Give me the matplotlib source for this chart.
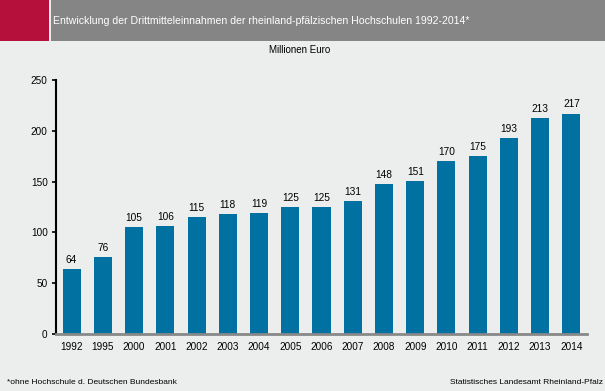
import matplotlib.pyplot as plt
from matplotlib.patches import Rectangle

# Data
years = ['1992', '1995', '2000', '2001', '2002', '2003', '2004', '2005', '2006',
         '2007', '2008', '2009', '2010', '2011', '2012', '2013', '2014']
values = [64, 76, 105, 106, 115, 118, 119, 125, 125, 131, 148, 151, 170, 175, 193, 213, 217]
y_ticks = [0, 50, 100, 150, 200, 250]

title = 'Entwicklung der Drittmitteleinnahmen der rheinland-pfälzischen Hochschulen 1992-2014*'
unit = 'Millionen Euro'
note = '*ohne Hochschule d. Deutschen Bundesbank'
source = 'Statistisches Landesamt Rheinland-Pfalz'

plt.rcParams['font.family'] = ['Liberation Sans', 'DejaVu Sans']

W, H = 605, 391
fig = plt.figure(figsize=(W / 100, H / 100), dpi=100)
fig.patch.set_facecolor('#eceeed')

# header band
fig.patches.append(Rectangle((0, 1 - 41 / H), 49 / W, 41 / H, transform=fig.transFigure,
                             facecolor='#b5103c', edgecolor='none'))
fig.patches.append(Rectangle((51 / W, 1 - 41 / H), 1 - 51 / W, 41 / H, transform=fig.transFigure,
                             facecolor='#858585', edgecolor='none'))
fig.text(53 / W, 1 - 21 / H, title, color='white', fontsize=7.6, va='center', ha='left')
fig.text(300 / W, 1 - 50 / H, unit, color='black', fontsize=7, va='center', ha='center')

# axes: y-axis at x=56, 0 at y=334, 250 at y=80, right end x=587
ax = fig.add_axes([56 / W, 1 - 334 / H, (587 - 56) / W, (334 - 80) / H])
ax.set_facecolor('none')

x = range(len(years))
ax.bar(x, values, width=0.58, color='#0071a1', zorder=2)
for xi, v in zip(x, values):
    ax.text(xi, v + 4, str(v), ha='center', va='bottom', fontsize=7.3)

ax.set_xlim(-0.5, len(years) - 0.5)
ax.set_ylim(0, 250)
ax.set_yticks(y_ticks)
ax.set_xticks(list(x))
ax.set_xticklabels(years, fontsize=7.2)
ax.tick_params(axis='y', labelsize=7.2, length=3, width=1.2, direction='out', pad=3)
ax.tick_params(axis='x', length=0, pad=6)

for s in ['top', 'right']:
    ax.spines[s].set_visible(False)
ax.spines['left'].set_color('black')
ax.spines['left'].set_linewidth(1.5)
ax.spines['bottom'].set_color('#888888')
ax.spines['bottom'].set_linewidth(2)
ax.spines['bottom'].set_zorder(3)

fig.text(7 / W, 1 - 383 / H, note, fontsize=6, va='center', ha='left')
fig.text(603 / W, 1 - 382 / H, source, fontsize=6, va='center', ha='right')

fig.savefig('out.png', dpi=100, facecolor=fig.get_facecolor())
